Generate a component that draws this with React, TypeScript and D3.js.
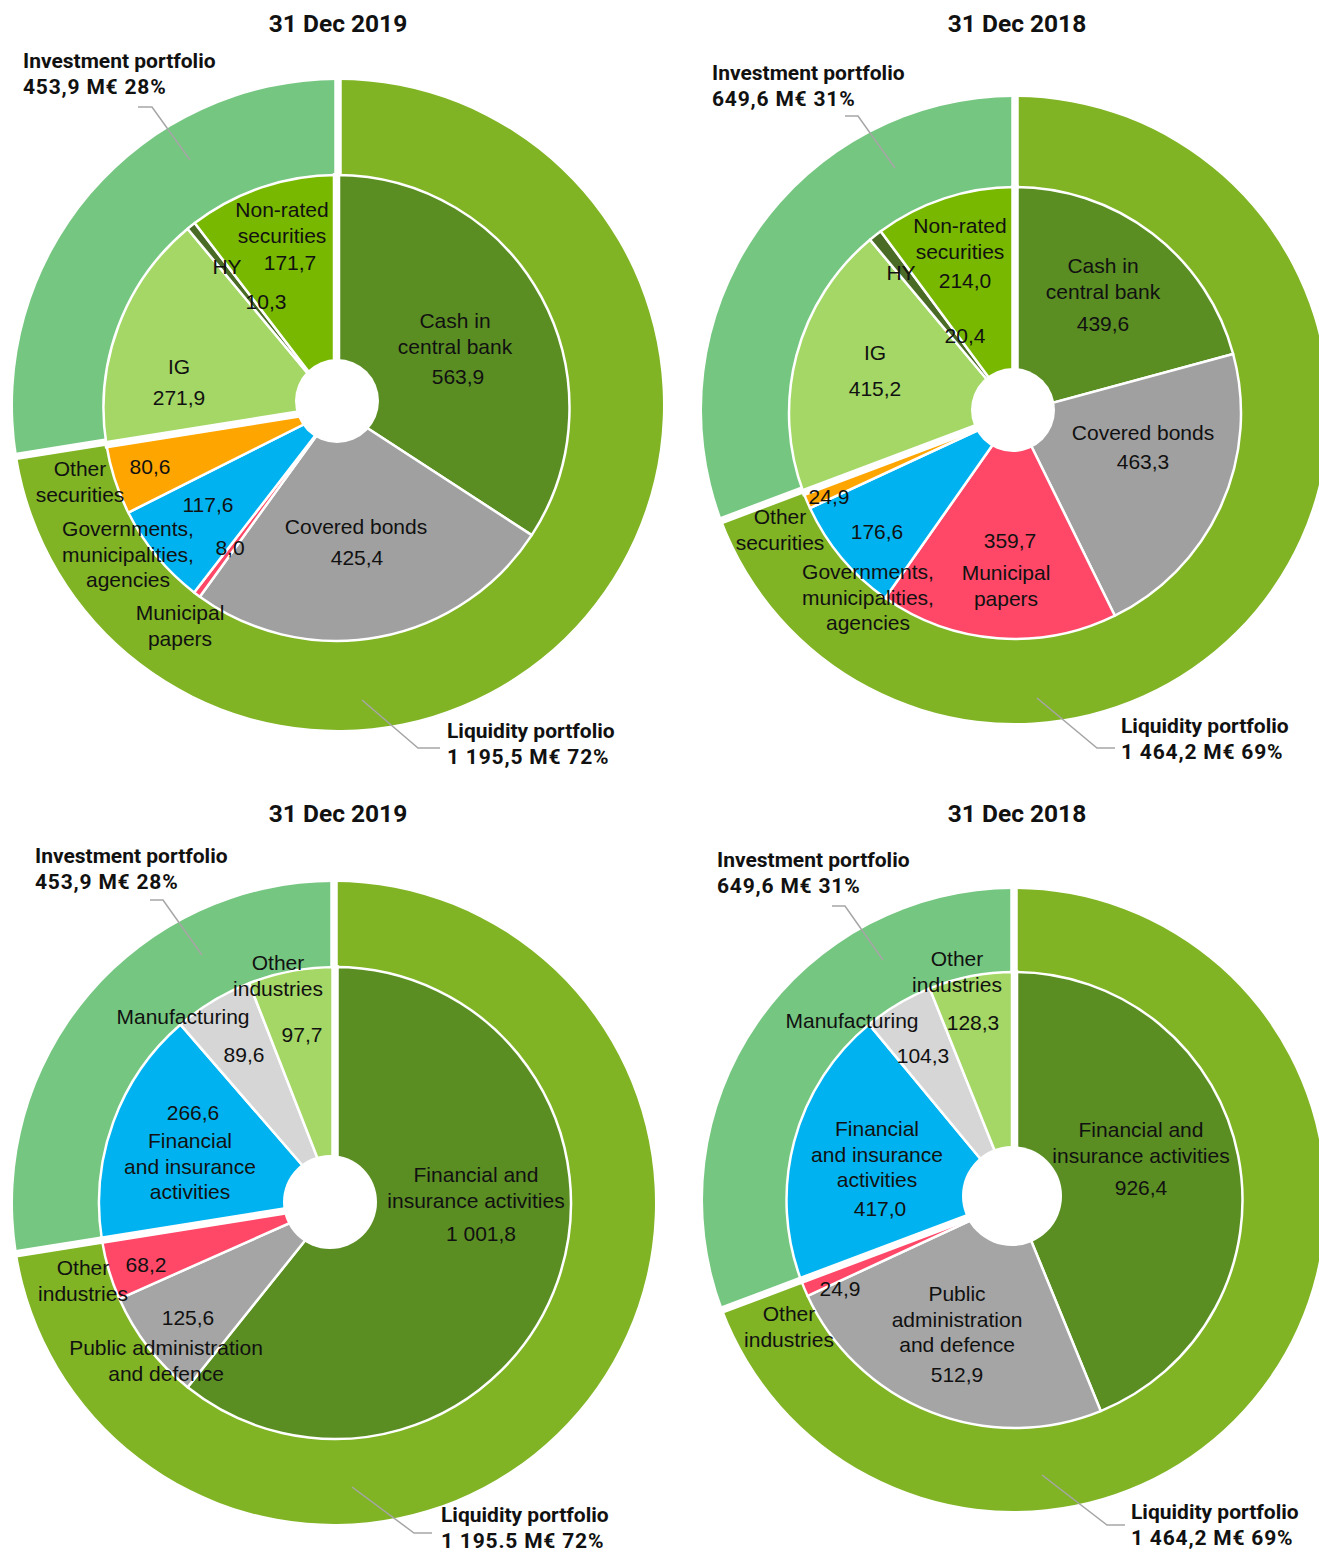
import React from "react";
import * as d3 from "d3";

// ---- data -------------------------------------------------------------
const chartTitles = ["31 Dec 2019", "31 Dec 2018", "31 Dec 2019", "31 Dec 2018"];
const portfolioNames = ["Liquidity portfolio", "Investment portfolio"];
const portfolioTotals2019 = [1195.5, 453.9];
const portfolioTotals2018 = [1464.2, 649.6];

const ratingCategories = [
  "Cash in central bank",
  "Covered bonds",
  "Municipal papers",
  "Governments, municipalities, agencies",
  "Other securities",
  "IG",
  "HY",
  "Non-rated securities",
];
// 0 = liquidity portfolio, 1 = investment portfolio
const ratingPortfolio = [0, 0, 0, 0, 0, 1, 1, 1];
const rating2019 = [563.9, 425.4, 8.0, 117.6, 80.6, 271.9, 10.3, 171.7];
const rating2018 = [439.6, 463.3, 359.7, 176.6, 24.9, 415.2, 20.4, 214.0];

const industryCategories = [
  "Financial and insurance activities",
  "Public administration and defence",
  "Other industries",
  "Financial and insurance activities",
  "Manufacturing",
  "Other industries",
];
const industryPortfolio = [0, 0, 0, 1, 1, 1];
const industry2019 = [1001.8, 125.6, 68.2, 266.6, 89.6, 97.7];
const industry2018 = [926.4, 512.9, 24.9, 417.0, 104.3, 128.3];

// ---- styles -----------------------------------------------------------
const outerColors = ["#80b425", "#75c680"];
const ratingColors = ["#5a8e23", "#a0a0a0", "#ff4767", "#00b3f0", "#ffa500", "#a4d765", "#4a6b26", "#78b800"];
const industryColors = ["#5a8e23", "#a5a5a5", "#ff4767", "#00b3f0", "#d6d6d6", "#a4d765"];

const BOLD = "Roboto, 'Liberation Sans', sans-serif";
const REGULAR = "'Liberation Sans', Arial, sans-serif";

type SliceLabel = { lines: string[]; nx: number; ny: number; vx: number; vy: number };
type Layout = {
  cx: number; cy: number; R: number; r: number; hole: number;
  innerOff: [number, number]; holeOff: [number, number];
  title: [number, number];
  inv: [number, number]; invLeader: [number, number][];
  liq: [number, number]; liqLeader: [number, number][];
  liqDecimal: string;
  labels: SliceLabel[];
};

const layouts: Layout[] = [
  {
    cx: 338, cy: 405, R: 325, r: 233, hole: 42,
    innerOff: [-1.5, 3], holeOff: [-1, -4],
    title: [0, -373],
    inv: [-315, -337], invLeader: [[-200, -298], [-186, -298], [-148, -245]],
    liq: [109, 333], liqLeader: [[24, 295], [80, 343], [102, 343]],
    liqDecimal: ",",
    labels: [
      { lines: ["Cash in", "central bank"], nx: 117, ny: -84, vx: 120, vy: -28 },
      { lines: ["Covered bonds"], nx: 18, ny: 122, vx: 19, vy: 153 },
      { lines: ["Municipal", "papers"], nx: -158, ny: 208, vx: -108, vy: 143 },
      { lines: ["Governments,", "municipalities,", "agencies"], nx: -210, ny: 124, vx: -130, vy: 100 },
      { lines: ["Other", "securities"], nx: -258, ny: 64, vx: -188, vy: 62 },
      { lines: ["IG"], nx: -159, ny: -38, vx: -159, vy: -7 },
      { lines: ["HY"], nx: -111, ny: -138, vx: -72, vy: -103 },
      { lines: ["Non-rated", "securities"], nx: -56, ny: -195, vx: -48, vy: -142 },
    ],
  },
  {
    cx: 1015, cy: 410, R: 313, r: 226, hole: 42,
    innerOff: [0, 3], holeOff: [-2, 0],
    title: [2, -378],
    inv: [-303, -330], invLeader: [[-170, -294], [-157, -294], [-120, -242]],
    liq: [106, 323], liqLeader: [[22, 288], [82, 338], [100, 338]],
    liqDecimal: ",",
    labels: [
      { lines: ["Cash in", "central bank"], nx: 88, ny: -144, vx: 88, vy: -86 },
      { lines: ["Covered bonds"], nx: 128, ny: 23, vx: 128, vy: 52 },
      { lines: ["Municipal", "papers"], nx: -9, ny: 163, vx: -5, vy: 131 },
      { lines: ["Governments,", "municipalities,", "agencies"], nx: -147, ny: 162, vx: -138, vy: 122 },
      { lines: ["Other", "securities"], nx: -235, ny: 107, vx: -186, vy: 87 },
      { lines: ["IG"], nx: -140, ny: -57, vx: -140, vy: -21 },
      { lines: ["HY"], nx: -114, ny: -137, vx: -50, vy: -74 },
      { lines: ["Non-rated", "securities"], nx: -55, ny: -184, vx: -50, vy: -129 },
    ],
  },
  {
    cx: 334, cy: 1203, R: 321, r: 236, hole: 47,
    innerOff: [1, 0], holeOff: [-4, -1],
    title: [4, -381],
    inv: [-299, -340], invLeader: [[-184, -303], [-171, -303], [-132, -248]],
    liq: [107, 319], liqLeader: [[18, 284], [80, 330], [98, 330]],
    liqDecimal: ".",
    labels: [
      { lines: ["Financial and", "insurance activities"], nx: 142, ny: -28, vx: 147, vy: 31 },
      { lines: ["Public administration", "and defence"], nx: -168, ny: 145, vx: -146, vy: 115 },
      { lines: ["Other", "industries"], nx: -251, ny: 65, vx: -188, vy: 62 },
      { lines: ["Financial", "and insurance", "activities"], nx: -144, ny: -62, vx: -141, vy: -90 },
      { lines: ["Manufacturing"], nx: -151, ny: -186, vx: -90, vy: -148 },
      { lines: ["Other", "industries"], nx: -56, ny: -240, vx: -32, vy: -168 },
    ],
  },
  {
    cx: 1014, cy: 1200, R: 311, r: 228, hole: 50,
    innerOff: [0.5, 0], holeOff: [-2, -4],
    title: [3, -378],
    inv: [-297, -333], invLeader: [[-182, -294], [-169, -294], [-131, -240]],
    liq: [117, 319], liqLeader: [[28, 275], [93, 325], [111, 325]],
    liqDecimal: ",",
    labels: [
      { lines: ["Financial and", "insurance activities"], nx: 127, ny: -70, vx: 127, vy: -12 },
      { lines: ["Public", "administration", "and defence"], nx: -57, ny: 94, vx: -57, vy: 175 },
      { lines: ["Other", "industries"], nx: -225, ny: 114, vx: -174, vy: 89 },
      { lines: ["Financial", "and insurance", "activities"], nx: -137, ny: -71, vx: -134, vy: 9 },
      { lines: ["Manufacturing"], nx: -162, ny: -179, vx: -91, vy: -144 },
      { lines: ["Other", "industries"], nx: -57, ny: -241, vx: -41, vy: -177 },
    ],
  },
];

const chartTotals = [portfolioTotals2019, portfolioTotals2018, portfolioTotals2019, portfolioTotals2018];
const chartValues = [rating2019, rating2018, industry2019, industry2018];
const chartCategories = [ratingCategories, ratingCategories, industryCategories, industryCategories];
const chartGroups = [ratingPortfolio, ratingPortfolio, industryPortfolio, industryPortfolio];
const chartColors = [ratingColors, ratingColors, industryColors, industryColors];

// 1 195,5 style numbers
const fmtNumber = (v: number, dec = ",") =>
  d3.format(",.1f")(v).replace(/,/g, " ").replace(".", dec);

const LINE_H = 25.5;
const GAP = 7.5;

const ray = (angle: number, r0: number, r1: number, ox = 0, oy = 0) => ({
  x1: ox + Math.sin(angle) * r0,
  y1: oy - Math.cos(angle) * r0,
  x2: ox + Math.sin(angle) * r1,
  y2: oy - Math.cos(angle) * r1,
});

function NestedPie({ idx }: { idx: number }) {
  const L = layouts[idx];
  const totals = chartTotals[idx];
  const values = chartValues[idx];
  const colors = chartColors[idx];
  const cats = chartCategories[idx];
  const groups = chartGroups[idx];

  const pie = d3.pie<number>().sort(null).value((d) => d).startAngle(0).endAngle(2 * Math.PI);
  const outerArcs = pie(totals);
  const innerArcs = pie(values);
  const outerArc = d3.arc<d3.PieArcDatum<number>>().innerRadius(0).outerRadius(L.R);
  const innerArc = d3.arc<d3.PieArcDatum<number>>().innerRadius(0).outerRadius(L.r);
  const grand = d3.sum(totals);

  // start angle of the first inner slice of each portfolio
  const innerBounds = innerArcs
    .filter((_, i) => i === 0 || groups[i] !== groups[i - 1])
    .map((a) => a.startAngle);

  const line = d3.line();
  const [hx, hy] = L.holeOff;
  const [ix, iy] = L.innerOff;

  const outerLabel = (i: number, pos: [number, number], dec: string) => (
    <text x={pos[0]} y={pos[1]} fontFamily={BOLD} fontWeight="bold" fontSize={21} fill="#111">
      <tspan x={pos[0]}>{portfolioNames[i]}</tspan>
      <tspan x={pos[0]} dy={26} letterSpacing={0.8}>
        {`${fmtNumber(totals[i], dec)} M€ ${Math.round((totals[i] / grand) * 100)}%`}
      </tspan>
    </text>
  );

  return (
    <g transform={`translate(${L.cx},${L.cy})`}>
      <text
        x={L.title[0]}
        y={L.title[1]}
        textAnchor="middle"
        fontFamily={BOLD}
        fontWeight="bold"
        fontSize={24.5}
        fill="#111"
      >
        {chartTitles[idx]}
      </text>

      {outerArcs.map((a, i) => (
        <path key={`o${i}`} d={outerArc(a) || ""} fill={outerColors[i]} />
      ))}
      {/* gaps between the two portfolios on the outer ring */}
      {outerArcs.map((a, i) => (
        <line key={`so${i}`} {...ray(a.startAngle, 0, L.R + 4)} stroke="#fff" strokeWidth={GAP} />
      ))}

      <g transform={`translate(${ix},${iy})`}>
        {innerArcs.map((a, i) => (
          <path
            key={`i${i}`}
            d={innerArc(a) || ""}
            fill={colors[i]}
            stroke="#fff"
            strokeWidth={2.5}
            strokeLinejoin="round"
          >
            <title>{cats[i]}</title>
          </path>
        ))}
        {innerBounds.map((ang, i) => (
          <line key={`si${i}`} {...ray(ang, 0, L.r + 2)} stroke="#fff" strokeWidth={GAP} />
        ))}
      </g>
      <circle cx={hx} cy={hy} r={L.hole} fill="#fff" />

      {L.labels.map((lb, i) => (
        <g key={`l${i}`} fontFamily={REGULAR} fontSize={21} fill="#111" textAnchor="middle">
          {lb.lines.map((t, k) => (
            <text key={k} x={lb.nx} y={lb.ny + k * LINE_H} dy="0.35em">
              {t}
            </text>
          ))}
          <text x={lb.vx} y={lb.vy} dy="0.35em">
            {fmtNumber(values[i])}
          </text>
        </g>
      ))}

      <path d={line(L.invLeader) || ""} fill="none" stroke="#a6a6a6" strokeWidth={1.5} />
      <path d={line(L.liqLeader) || ""} fill="none" stroke="#a6a6a6" strokeWidth={1.5} />
      {outerLabel(1, L.inv, ",")}
      {outerLabel(0, L.liq, L.liqDecimal)}
    </g>
  );
}

export default function App() {
  return (
    <svg
      width={1319}
      height={1555}
      viewBox="0 0 1319 1555"
      style={{ position: "absolute", left: 0, top: 0, background: "#fff" }}
    >
      {layouts.map((_, i) => (
        <NestedPie key={i} idx={i} />
      ))}
    </svg>
  );
}
